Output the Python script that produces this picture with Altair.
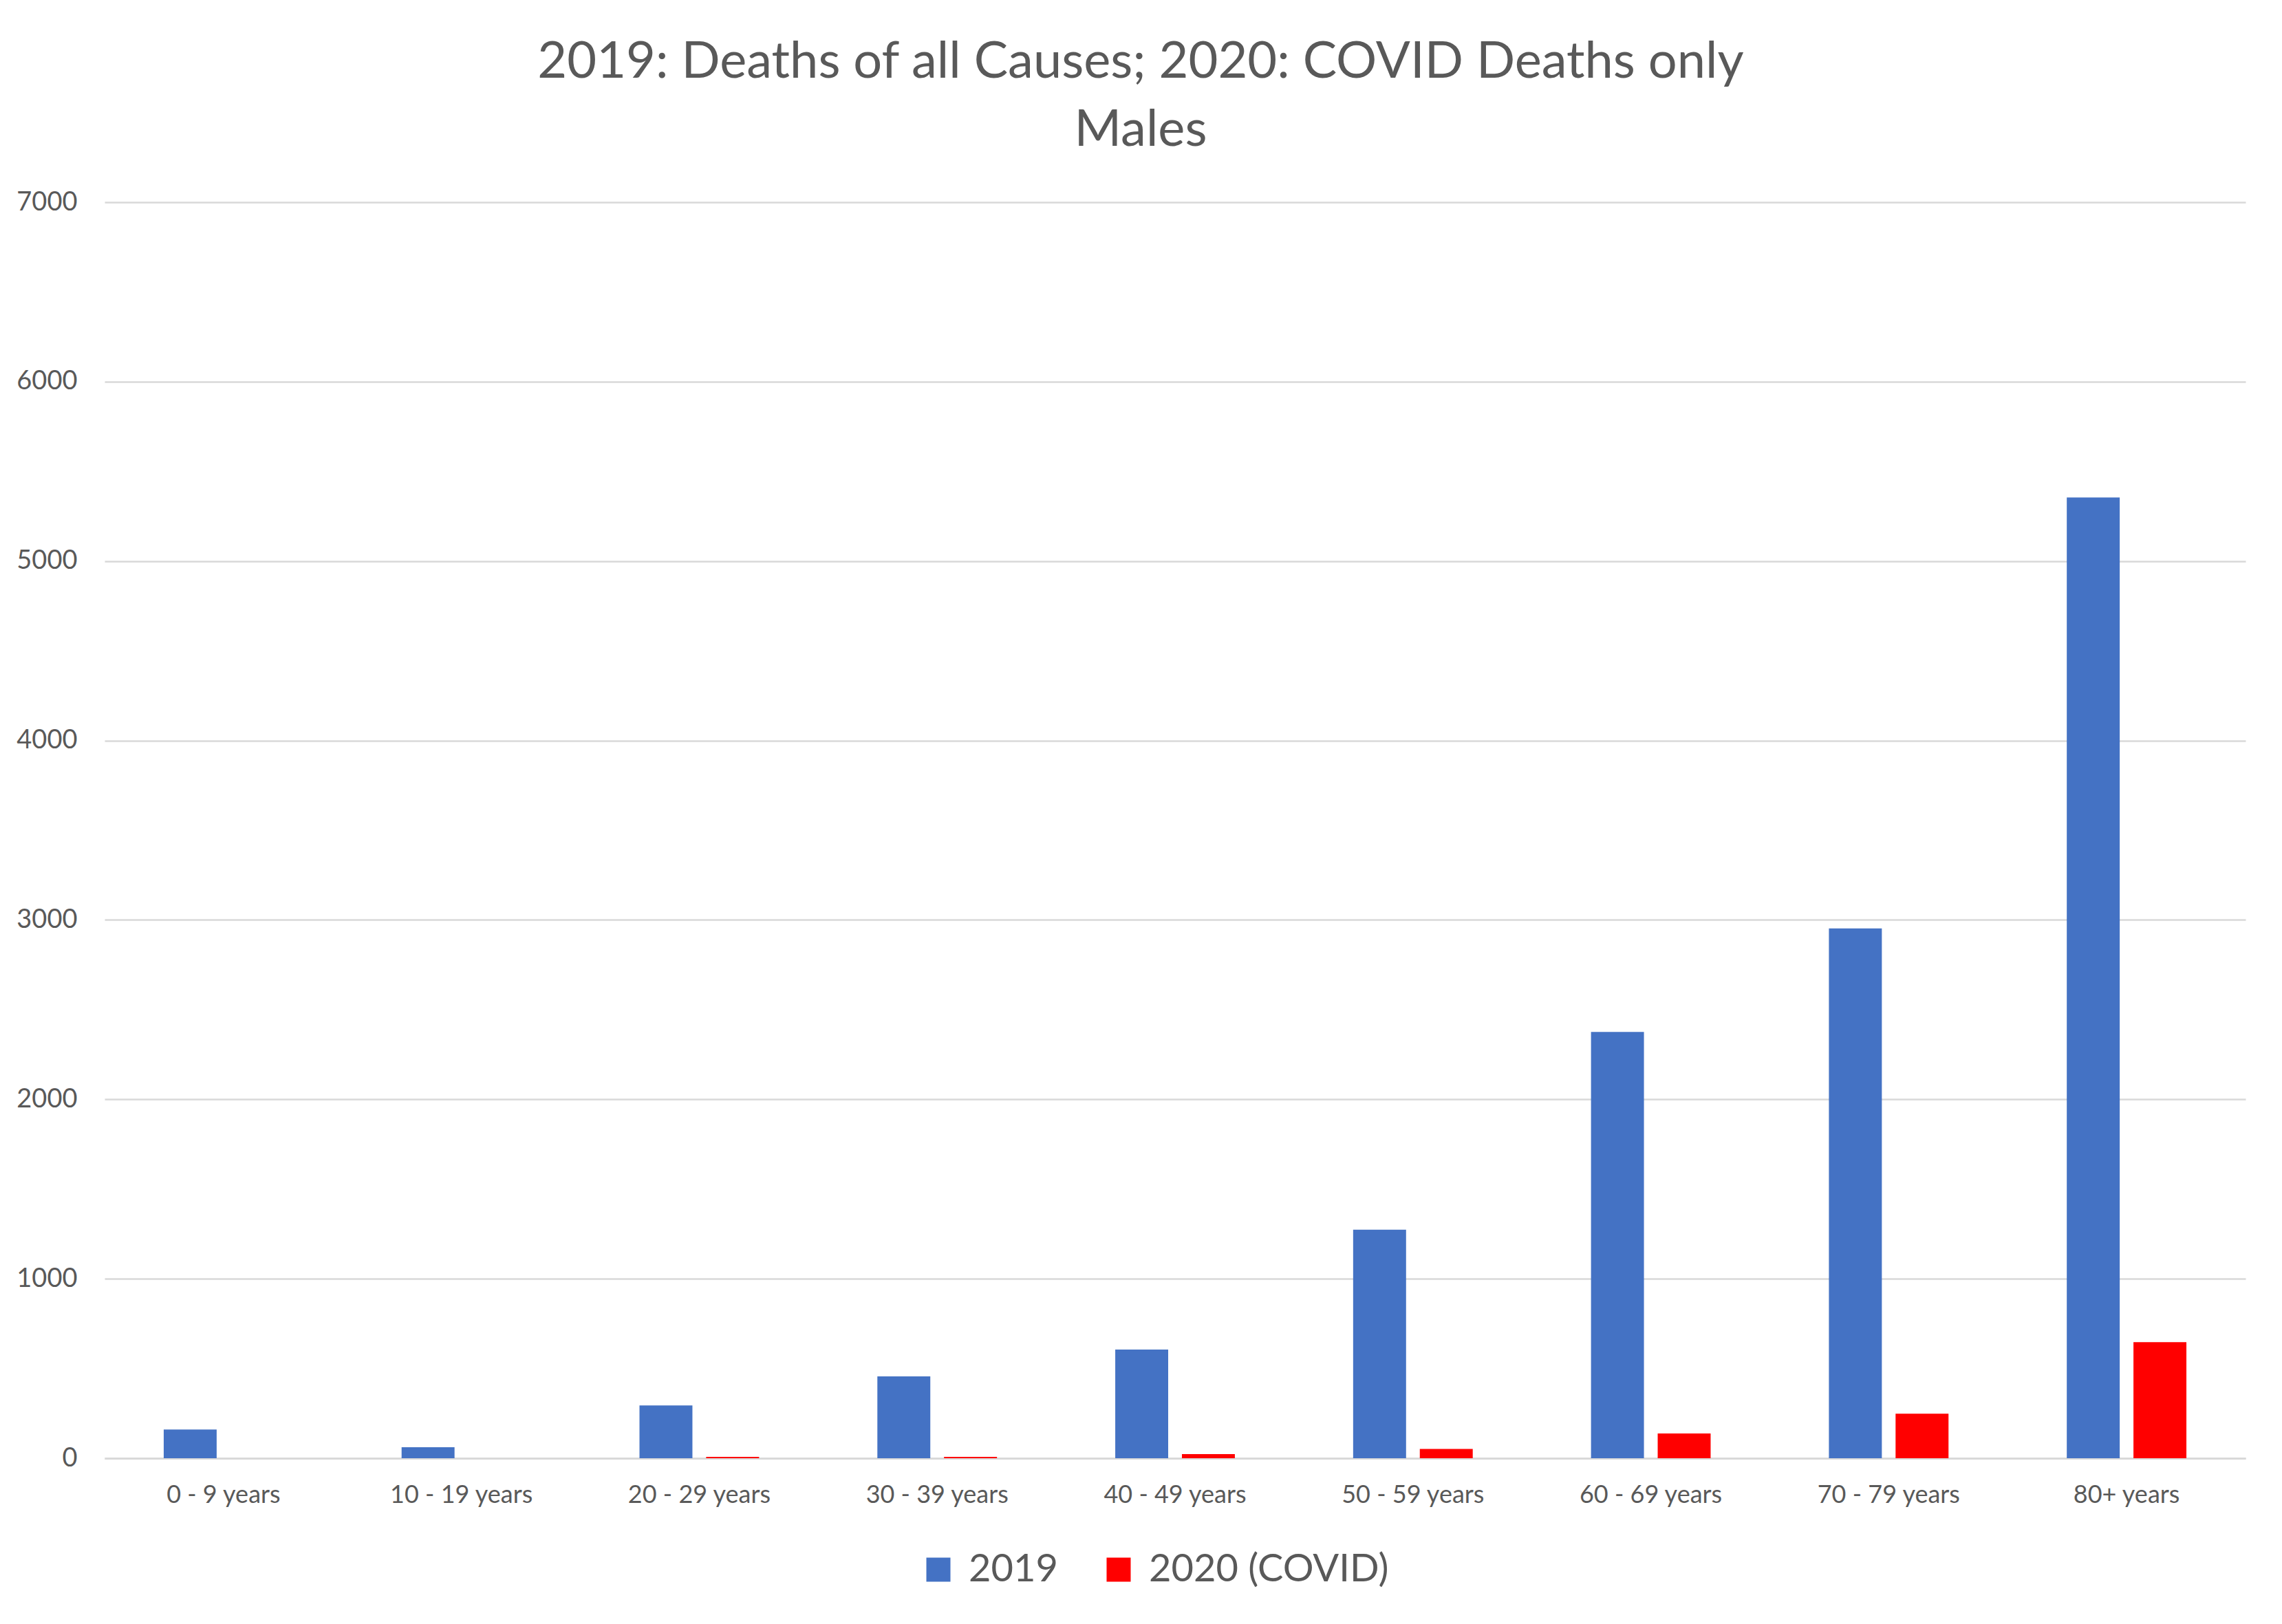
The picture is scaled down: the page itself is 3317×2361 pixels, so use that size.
import altair as alt
import pandas as pd

categories = ["0 - 9 years", "10 - 19 years", "20 - 29 years", "30 - 39 years",
              "40 - 49 years", "50 - 59 years", "60 - 69 years", "70 - 79 years", "80+ years"]
series_names = ["2019", "2020 (COVID)"]
deaths_2019 = [160, 61, 294, 456, 606, 1274, 2376, 2953, 5354]
deaths_2020 = [0, 0, 8, 8, 23, 52, 138, 248, 647]
colors = ["#4472C4", "#FF0000"]
y_ticks = [0, 1000, 2000, 3000, 4000, 5000, 6000, 7000]

rows = []
for c, a, b in zip(categories, deaths_2019, deaths_2020):
    rows.append({"age": c, "series": series_names[0], "deaths": a})
    rows.append({"age": c, "series": series_names[1], "deaths": b})
df = pd.DataFrame(rows)

FONT = "Lato"
TXT = "#595959"

chart = alt.Chart(df).mark_bar().encode(
    x=alt.X("age:N", sort=categories, title=None,
            scale=alt.Scale(paddingInner=0, paddingOuter=0),
            axis=alt.Axis(labelAngle=0, ticks=False, labelPadding=36, labelLimit=0,
                          labelFontSize=36, labelColor=TXT, labelFont=FONT,
                          domainColor="#d9d9d9", domainWidth=3, grid=False)),
    xOffset=alt.XOffset("series:N", sort=series_names,
                        scale=alt.Scale(paddingInner=0.206, paddingOuter=0.887)),
    y=alt.Y("deaths:Q", title=None,
            scale=alt.Scale(domain=[0, 7000], nice=False),
            axis=alt.Axis(values=y_ticks, format="d", ticks=False, domain=False,
                          labelPadding=40, labelLimit=0,
                          labelFontSize=38, labelColor=TXT, labelFont=FONT,
                          gridColor="#d9d9d9", gridWidth=2.5)),
    color=alt.Color("series:N", sort=series_names,
                    scale=alt.Scale(domain=series_names, range=colors),
                    legend=alt.Legend(title=None, orient="none", direction="horizontal",
                                      legendX=1184, legendY=1960,
                                      symbolType="square", symbolSize=1225,
                                      symbolStrokeWidth=0, labelFontSize=56,
                                      labelFont=FONT, labelColor=TXT, labelLimit=0,
                                      labelOffset=16, columnPadding=60,
                                      symbolOpacity=1)),
).properties(
    width=3112,
    height=1826,
    title=alt.TitleParams(
        text=["2019: Deaths of all Causes; 2020: COVID Deaths only", "Males"],
        font=FONT, fontSize=74, fontWeight="normal", color=TXT,
        anchor="middle", dx=-50, offset=47, lineHeight=99),
    autosize=alt.AutoSizeParams(type="none"),
    padding={"left": 152, "top": 294, "right": 53, "bottom": 241},
).configure(background="white").configure_view(stroke=None, strokeWidth=0)

chart.save("out.html", embed_options={"renderer": "svg", "actions": False})
